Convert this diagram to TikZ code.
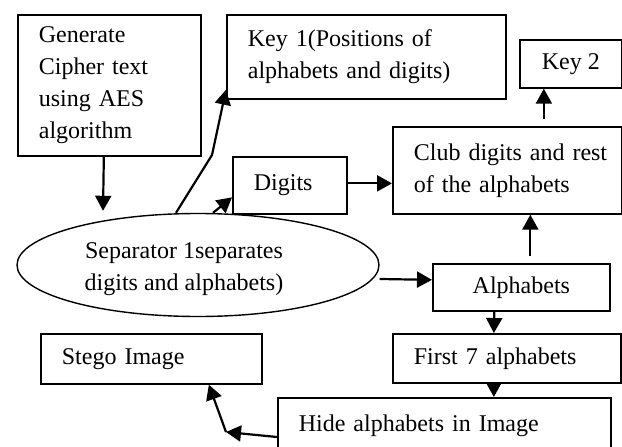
\documentclass[tikz,border=0pt]{standalone}
\usepackage{fontspec}
\setmainfont{Liberation Serif}
\usetikzlibrary{shapes.geometric,arrows.meta}
\newcommand{\oneline}[1]{\mbox{#1}}
\begin{document}
\begin{tikzpicture}[x=1pt,y=-1pt,
  every node/.style={font=\fontsize{24pt}{32pt}\selectfont},
  box/.style={draw, line width=1.7pt, rectangle, anchor=north west, inner xsep=21pt, inner ysep=0pt, align=left},
  cbox/.style={draw, line width=1.7pt, rectangle, anchor=north west, inner sep=0pt, align=center},
  arr/.style={line width=2.2pt, -{Triangle[length=15pt,width=16pt]}},
]
\useasboundingbox (0,0) rectangle (622,447);
\fill[white] (0,0) rectangle (622,447);
\clip (0,0) rectangle (622,447);

\node[box, minimum width=183pt, minimum height=141pt, text width=141pt] (gen) at (17,14)
  {\oneline{Generate}\\\oneline{Cipher text}\\\oneline{using AES}\\\oneline{algorithm}};
\node[box, minimum width=279pt, minimum height=84pt, text width=237pt] (key1) at (226,14)
  {\oneline{Key 1(Positions of}\\\oneline{alphabets and digits)}};
\node[cbox, minimum width=102pt, minimum height=48pt] (key2) at (519,39) {Key 2};
\node[box, minimum width=229pt, minimum height=87pt, text width=187pt] (club) at (392,126)
  {\oneline{Club digits and rest}\\\oneline{of the alphabets}};
\node[box, minimum width=114pt, minimum height=57pt, text width=72pt] (dig) at (232,156) {\oneline{Digits}};
\node[draw, ellipse, line width=1.4pt, minimum width=362pt, minimum height=103pt, inner sep=0pt] (ell) at (198,265) {};
\node[align=center, inner sep=0pt] (elltxt) at (184,269.5) {Separator 1separates\\digits and alphabets)};
\node[cbox, minimum width=177pt, minimum height=47pt] (alph) at (432,263) {Alphabets};
\node[box, minimum width=228pt, minimum height=49pt, text width=186pt] (first) at (392,333) {\oneline{First 7 alphabets}};
\node[box, minimum width=221pt, minimum height=50pt, text width=179pt] (stego) at (40,333) {\oneline{Stego Image}};
\node[box, minimum width=333pt, text width=291pt, inner ysep=16.6pt, text depth=60pt] (hide) at (277,397)
  {\oneline{Hide alphabets in Image}};

\coordinate (kb) at (212,155);
\coordinate (hb) at (226,432);

\draw[arr] ([xshift=-5.5pt]gen.south) -- ([xshift=-95pt,yshift=2pt]ell.north);
\draw[arr] ([xshift=-22pt]ell.north) -- (kb) -- ([yshift=10pt]key1.south west);
\draw[arr] ([xshift=15pt]ell.north) -- ([yshift=-12pt]dig.west);
\draw[arr] ([yshift=2pt]dig.east) -- ([yshift=2pt]dig.east -| club.west);
\draw[arr, shorten <=7pt] ([xshift=36.5pt]club.north) -- ([xshift=-27pt]key2.south);
\draw[arr] ([yshift=-14pt]ell.east) -- ([yshift=7.5pt]alph.west);
\draw[arr, shorten <=7pt] ([xshift=9pt]alph.north) -- ([xshift=23pt]club.south);
\draw[arr] ([xshift=-27pt]alph.south) -- ([xshift=-13pt]first.north);
\draw[arr] ([xshift=-13pt]first.south) -- ([xshift=49.5pt]hide.north);
\draw[arr] ([yshift=-40pt]hide.north west) -- (hb);
\draw[arr] (hb) -- ([xshift=57.5pt]stego.south);
\end{tikzpicture}
\end{document}
